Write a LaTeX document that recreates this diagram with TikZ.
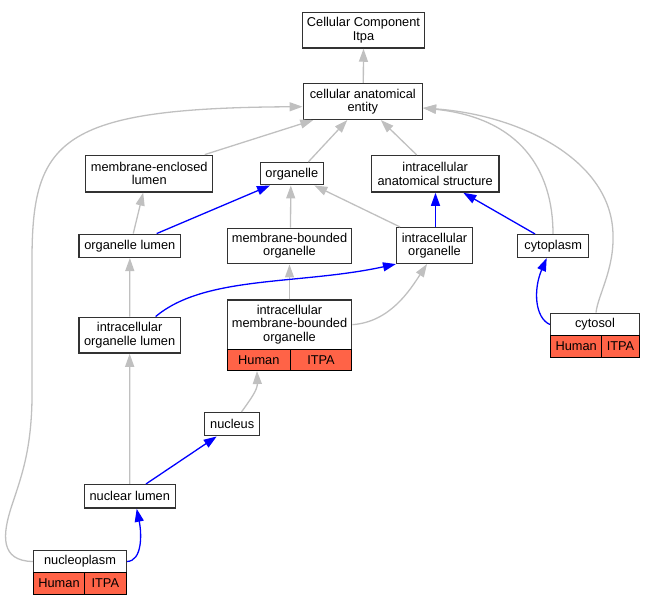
\documentclass[tikz,border=0pt]{standalone}
\usepackage{fontspec}
\setmainfont{Liberation Sans}
\usetikzlibrary{arrows.meta}
\definecolor{edgegray}{RGB}{192,192,192}
\definecolor{edgeblue}{RGB}{0,0,255}
\definecolor{cellred}{RGB}{255,99,71}
\definecolor{boxline}{RGB}{50,50,50}
\tikzset{
  box/.style={draw=boxline, line width=1.5pt, fill=white, inner sep=0pt, align=center,
    font=\fontsize{12.8}{13.3}\selectfont},
  cell/.style={box, fill=cellred, draw=black},
  isa/.style={draw=edgegray, line width=1.3pt, -{Triangle[length=13pt,width=9pt]}, color=edgegray},
  partof/.style={draw=edgeblue, line width=1.3pt, -{Triangle[length=13pt,width=9pt]}, color=edgeblue},
}
\begin{document}
\begin{tikzpicture}[x=1pt,y=-1pt]
\useasboundingbox (0,0) rectangle (655,605);
% nodes
\node[box, minimum width=122.4pt, minimum height=35.7pt] (cc) at (363.5,30.15) {Cellular Component\\Itpa};
\node[box, minimum width=119pt, minimum height=35.6pt] (cae) at (362.8,101.5) {cellular anatomical\\entity};
\node[box, minimum width=127pt, minimum height=36.5pt] (mel) at (149.2,173.6) {membrane-enclosed\\lumen};
\node[box, minimum width=63pt, minimum height=22pt] (org) at (291.8,173.7) {organelle};
\node[box, minimum width=127.7pt, minimum height=36.3pt] (ias) at (435.2,173.85) {intracellular\\anatomical structure};
\node[box, minimum width=101.7pt, minimum height=23pt] (ol) at (129.85,245.8) {organelle lumen};
\node[box, minimum width=124.4pt, minimum height=35.4pt] (mbo) at (289.5,246) {membrane-bounded\\organelle};
\node[box, minimum width=75.6pt, minimum height=35.6pt] (io) at (434.5,245.5) {intracellular\\organelle};
\node[box, minimum width=71pt, minimum height=22.6pt] (cyt) at (553.2,246) {cytoplasm};
\node[box, minimum width=101.3pt, minimum height=35.7pt] (iol) at (129.65,335.15) {intracellular\\organelle lumen};
\node[box, minimum width=124.4pt, minimum height=49.3pt] (imbo) at (289.5,324.65) {intracellular\\membrane-bounded\\organelle};
\node[cell, minimum width=63pt, minimum height=21pt] (imboh) at (258.8,359.8) {Human};
\node[cell, minimum width=61.4pt, minimum height=21pt] (imboi) at (321,359.8) {ITPA};
\node[box, minimum width=88.6pt, minimum height=22.4pt] (cytosol) at (595,324.5) {cytosol};
\node[cell, minimum width=51pt, minimum height=21.6pt] (cytosolh) at (576.2,346.5) {Human};
\node[cell, minimum width=37.6pt, minimum height=21.6pt] (cytosoli) at (620.5,346.5) {ITPA};
\node[box, minimum width=55pt, minimum height=23pt] (nucleus) at (232.2,424.2) {nucleus};
\node[box, minimum width=91pt, minimum height=23.3pt] (nl) at (129.8,496.35) {nuclear lumen};
\node[box, minimum width=92.6pt, minimum height=22.4pt] (np) at (80,561.5) {nucleoplasm};
\node[cell, minimum width=50.6pt, minimum height=21.6pt] (nph) at (59,583.5) {Human};
\node[cell, minimum width=42pt, minimum height=21.6pt] (npi) at (105.3,583.5) {ITPA};
% gray is_a edges
\draw[isa] ([xshift=0.5pt]cae.north) -- (cc.south);
\draw[isa] ([xshift=55.5pt]mel.north) -- ([xshift=-49.5pt]cae.south);
\draw[isa] ([xshift=16.5pt]org.north) -- ([xshift=-15.5pt]cae.south);
\draw[isa] ([xshift=-18.5pt]ias.north) -- ([xshift=18pt]cae.south);
\draw[isa] ([xshift=3.4pt]ol.north) -- ([xshift=-6pt]mel.south);
\draw[isa] ([xshift=1pt]mbo.north) -- ([xshift=-1pt]org.south);
\draw[isa] ([xshift=-34.5pt]io.north) -- ([xshift=22.5pt]org.south);
\draw[isa] (iol.north) -- (ol.south);
\draw[isa] (imbo.north) -- (mbo.south);
\draw[isa] (imbo.east) .. controls (390,322) and (410,290) .. ([xshift=-7.5pt]io.south);
\draw[isa] (nl.north) -- (iol.south);
\draw[isa] ([xshift=9.3pt]nucleus.north) .. controls (250,400) and (257.5,390) .. ([xshift=-1.8pt]imboh.south);
\draw[isa] (np.west) .. controls (0,561) and (2,535) .. (12,505)
  .. controls (22,475) and (31,450) .. (32,400) -- (32,260)
  .. controls (32,140) and (60,108) .. ([yshift=-5.2pt]cae.west);
\draw[isa] ([xshift=-0.2pt]cyt.north) .. controls (553,170) and (520,118) .. ([yshift=-6.5pt]cae.east);
\draw[isa] ([xshift=1pt]cytosol.north) .. controls (598,295) and (614,270) .. (613,235)
  .. controls (612,160) and (520,115) .. ([yshift=-6.5pt]cae.east);
% blue part_of edges
\draw[partof] ([xshift=26.85pt]ol.north) -- ([xshift=-21.8pt]org.south);
\draw[partof] ([xshift=1pt]io.north) -- ([xshift=0.3pt]ias.south);
\draw[partof] ([xshift=-18.2pt]cyt.north) -- ([xshift=28.1pt]ias.south);
\draw[partof] ([xshift=26pt]iol.north) .. controls (205,275) and (300,285) .. (io.south west);
\draw[partof] (cytosol.west) .. controls (535,318) and (533,290) .. ([xshift=-6.5pt]cyt.south);
\draw[partof] ([xshift=16.2pt]nl.north) -- ([xshift=-15.5pt]nucleus.south);
\draw[partof] (np.east) .. controls (142,561) and (142,535) .. ([xshift=6.9pt]nl.south);
\end{tikzpicture}
\end{document}
